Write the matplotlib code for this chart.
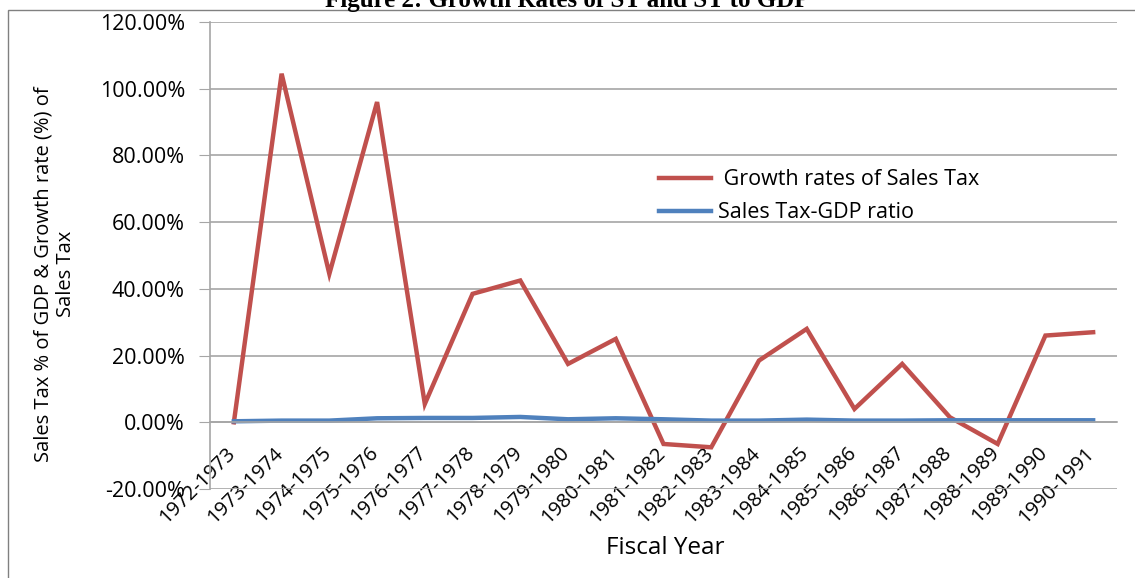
import matplotlib.pyplot as plt
from matplotlib.patches import Rectangle
from matplotlib.ticker import FuncFormatter
from matplotlib.transforms import ScaledTranslation

# --- DATA ---
years = ["1972-1973", "1973-1974", "1974-1975", "1975-1976", "1976-1977",
         "1977-1978", "1978-1979", "1979-1980", "1980-1981", "1981-1982",
         "1982-1983", "1983-1984", "1984-1985", "1985-1986", "1986-1987",
         "1987-1988", "1988-1989", "1989-1990", "1990-1991"]
growth_st = [0.0, 104.5, 44.5, 96.0, 5.5, 38.5, 42.5, 17.5, 25.0, -6.5,
             -7.5, 18.5, 28.0, 4.0, 17.5, 1.5, -6.5, 26.0, 27.0]
st_gdp = [0.3, 0.5, 0.5, 1.2, 1.3, 1.3, 1.6, 0.9, 1.2, 0.9,
          0.5, 0.5, 0.8, 0.5, 0.5, 0.6, 0.6, 0.6, 0.6]

RED = "#C0504D"
BLUE = "#4F81BD"
GRID = "#A6A6A6"

plt.rcParams['font.family'] = ['Open Sans', 'DejaVu Sans']

fig = plt.figure(figsize=(11.35, 5.78), dpi=100)
ax = fig.add_axes([210 / 1135, 1 - 489 / 578, (1117 - 210) / 1135, (489 - 22) / 578])

x = list(range(len(years)))
ax.plot(x, growth_st, color=RED, lw=3.2, label=" Growth rates of Sales Tax",
        solid_joinstyle='miter')
ax.plot(x, st_gdp, color=BLUE, lw=3.2, label="Sales Tax-GDP ratio")

ax.set_xlim(-0.5, len(years) - 0.5)
ax.set_ylim(-20, 120)
ax.set_yticks(range(-20, 121, 20))
ax.yaxis.set_major_formatter(FuncFormatter(lambda v, p: f"{v:.2f}%"))
ax.grid(axis='y', color=GRID, lw=1.2)
ax.set_axisbelow(True)

for s in ['top', 'right']:
    ax.spines[s].set_visible(False)
ax.spines['left'].set_color(GRID)
ax.spines['left'].set_linewidth(1.2)
ax.spines['bottom'].set_position(('data', 0))
ax.spines['bottom'].set_color(GRID)
ax.spines['bottom'].set_linewidth(1.2)

ax.set_xticks(x)
ax.set_xticklabels(years, rotation=45, ha='right', va='top',
                   rotation_mode='anchor', fontsize=14.5)
ax.tick_params(axis='x', length=0, pad=15)
ax.tick_params(axis='y', length=8, color=GRID, labelsize=15.5, pad=10)
shift = ScaledTranslation(-6 / 72, 0, fig.dpi_scale_trans)
for lab in ax.get_xticklabels():
    lab.set_transform(lab.get_transform() + shift)

ax.set_ylabel("Sales Tax % of GDP & Growth rate (%) of\nSales Tax", fontsize=14.5,
              linespacing=1.15)
ax.yaxis.set_label_coords(-0.148, 0.46)
fig.text(665 / 1135, 1 - 548 / 578, "Fiscal Year", fontsize=17.5,
         ha='center', va='center')

ax.legend(loc='upper left', bbox_to_anchor=((640 - 210) / 907, (489 - 150) / 467),
          frameon=False, fontsize=15.5, handlelength=2.4, handletextpad=0.3,
          labelspacing=0.55)

fig.text(0.5, 1.0, "Figure 2: Growth Rates of ST and ST to GDP", fontsize=18,
         family='Liberation Serif', weight='bold', ha='center', va='center')

fig.patches.append(Rectangle((8 / 1135, -0.05), 1.2, 1 - 10 / 578 + 0.05,
                             transform=fig.transFigure, fill=False,
                             edgecolor='#808080', lw=1))

fig.savefig("out.png", dpi=100)
